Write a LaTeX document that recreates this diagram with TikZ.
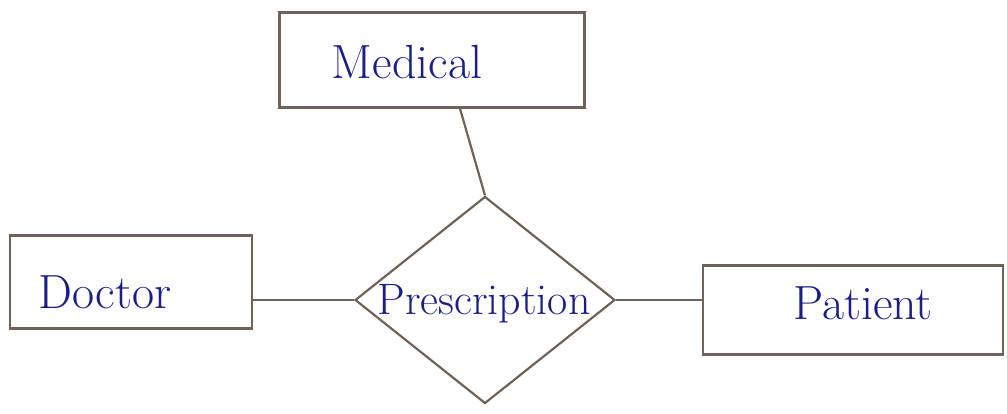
\documentclass[tikz,border=0pt]{standalone}
\usepackage{tikz}
\usetikzlibrary{shapes.geometric}

\definecolor{pencil}{RGB}{112,98,88}
\definecolor{ink}{RGB}{28,30,135}

\begin{document}
\begin{tikzpicture}[x=1pt, y=-1pt,
    entity/.style={draw=pencil, line width=2.2pt, rectangle, inner sep=0pt},
    relation/.style={draw=pencil, line width=2.2pt, diamond, inner sep=0pt,
      minimum width=260pt, minimum height=207pt},
    word/.style={text=ink, font=\fontsize{48}{56}\selectfont},
    link/.style={draw=pencil, line width=2.2pt}]
  \useasboundingbox (0,0) rectangle (1007,414);
  % entities and the relationship
  \node[entity, minimum width=305pt, minimum height=95pt] (medical) at (432,60) {};
  \node[entity, minimum width=242pt, minimum height=93pt] (doctor) at (131,282) {};
  \node[entity, minimum width=300pt, minimum height=89pt] (patient) at (853,310) {};
  \node[relation] (presc) at (485,300) {};
  % labels
  \node[word] (medicalText) at (407,62) {Medical};
  \node[word] (doctorText) at (105,292) {Doctor};
  \node[word] (patientText) at (863,303) {Patient};
  \node[word, font=\fontsize{44}{52}\selectfont] (prescText) at (484,304) {Prescription};
  % connectors
  \draw[link] ([xshift=28pt]medical.south) -- (presc.north);
  \draw[link] (doctor.east |- presc.west) -- (presc.west);
  \draw[link] (presc.east) -- (patient.west |- presc.east);
\end{tikzpicture}
\end{document}
